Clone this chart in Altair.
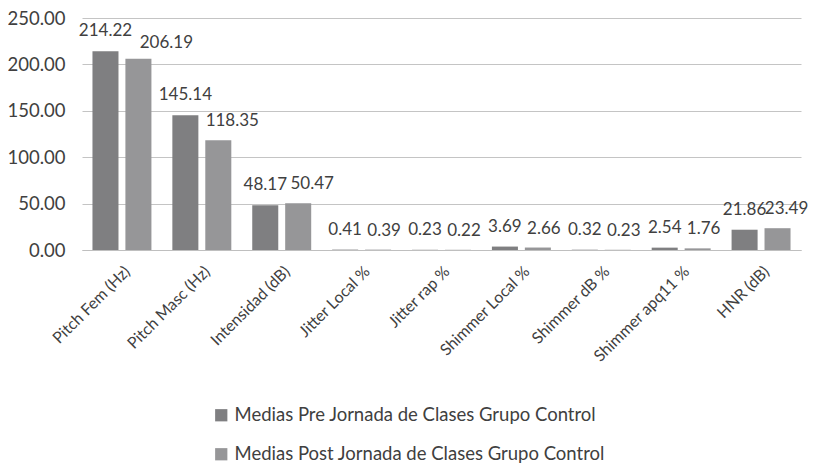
import altair as alt
import pandas as pd

categories = ["Pitch Fem (Hz)", "Pitch Masc (Hz)", "Intensidad (dB)", "Jitter Local %",
              "Jitter rap %", "Shimmer Local %", "Shimmer dB %", "Shimmer apq11 %", "HNR (dB)"]
series = ["Medias Pre Jornada de Clases Grupo Control",
          "Medias Post Jornada de Clases Grupo Control"]
pre_values = [214.22, 145.14, 48.17, 0.41, 0.23, 3.69, 0.32, 2.54, 21.86]
post_values = [206.19, 118.35, 50.47, 0.39, 0.22, 2.66, 0.23, 1.76, 23.49]
colors = ["#7f7f81", "#969698"]

rows = []
for c, a, b in zip(categories, pre_values, post_values):
    rows.append({"cat": c, "serie": series[0], "value": a})
    rows.append({"cat": c, "serie": series[1], "value": b})
df = pd.DataFrame(rows)

FONT = "Lato"
TXT = "#404040"

x = alt.X("cat:N", sort=categories, title=None,
          scale=alt.Scale(paddingInner=0.262, paddingOuter=0.131),
          axis=alt.Axis(labelAngle=-45, labelFontSize=16, labelColor=TXT, labelFont=FONT,
                        ticks=False, domainColor="#bfbfbf", labelPadding=13, labelLimit=300))
xo = alt.XOffset("serie:N", sort=series,
                 scale=alt.Scale(paddingInner=0.21, paddingOuter=0))
y = alt.Y("value:Q", title=None,
          scale=alt.Scale(domain=[0, 250], nice=False),
          axis=alt.Axis(values=[0, 50, 100, 150, 200, 250], format=".2f", labelFontSize=18.5,
                        labelColor=TXT, labelFont=FONT, ticks=False, domain=False,
                        gridColor="#c4c4c4", labelPadding=17))

bars = alt.Chart(df).mark_bar().encode(
    x=x, xOffset=xo, y=y,
    color=alt.Color("serie:N", sort=series,
                    scale=alt.Scale(domain=series, range=colors),
                    legend=alt.Legend(title=None, orient="none", legendX=130, legendY=388,
                                      direction="vertical", symbolType="square", symbolSize=150,
                                      symbolStrokeWidth=0, labelFontSize=18.5, labelColor=TXT,
                                      labelFont=FONT, rowPadding=20, labelLimit=500,
                                      symbolOffset=0)),
)

def label_layer(cond, dx, dy):
    return alt.Chart(df).transform_filter(cond).mark_text(
        dy=dy, dx=dx, baseline="alphabetic", fontSize=17, font=FONT, color=TXT
    ).encode(
        x=alt.X("cat:N", sort=categories),
        xOffset=alt.XOffset("serie:N", sort=series),
        y="value:Q",
        text=alt.Text("value:Q", format=".2f"),
    )

is_pre = f"datum.serie === '{series[0]}'"
is_post = f"datum.serie === '{series[1]}'"
first = f"datum.cat === '{categories[0]}'"
wide = " || ".join(f"datum.cat === '{categories[i]}'" for i in (1, 2))
last = f"datum.cat === '{categories[8]}'"

layers = [
    bars,
    label_layer(is_pre, 0, -15),
    label_layer(f"({is_post}) && ({first})", 28, -11),
    label_layer(f"({is_post}) && ({wide})", 14, -14),
    label_layer(f"({is_post}) && ({last})", 9, -14),
    label_layer(f"({is_post}) && !({first}) && !({wide}) && !({last})", 6, -14),
]

chart = alt.layer(*layers).properties(
    width=719, height=232,
    autosize=alt.AutoSizeParams(type="none"),
    padding={"left": 74, "top": 10, "right": 9, "bottom": 216},
).configure_view(stroke=None).configure_axis(gridWidth=1)

chart.save("out.html", embed_options={"renderer": "svg", "actions": False})
